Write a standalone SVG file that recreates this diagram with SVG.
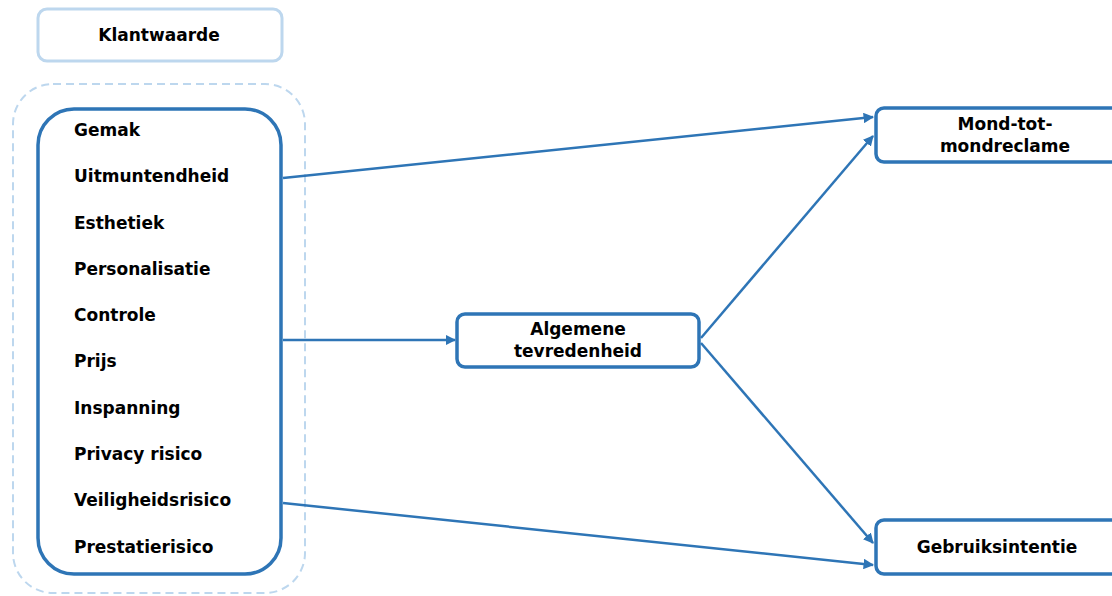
<svg xmlns="http://www.w3.org/2000/svg" width="1112" height="596" viewBox="0 0 1112 596">
<defs>
<style>
.t{font-family:"DejaVu Sans","Liberation Sans",sans-serif;font-weight:bold;font-size:17px;fill:#000}
.c{text-anchor:middle}
.box{fill:#fff;stroke:#2E75B6;stroke-width:3.5}
.edge{fill:none;stroke:#2E75B6;stroke-width:2.5}
</style>
<marker id="ah" viewBox="0 0 10 10" refX="9" refY="5" markerWidth="4.2" markerHeight="4.2" orient="auto" markerUnits="strokeWidth">
<path d="M0,0 L10,5 L0,10 Z" fill="#2E75B6"/>
</marker>
</defs>
<rect width="1112" height="596" fill="#fff"/>
<g id="klantwaarde">
<rect x="38" y="9" width="244" height="52" rx="9" fill="#fff" stroke="#BDD7EE" stroke-width="3"/>
<text class="t c" x="159" y="41">Klantwaarde</text>
</g>
<g id="groep">
<rect x="13" y="84" width="292" height="509" rx="40" fill="none" stroke="#BDD7EE" stroke-width="2" stroke-dasharray="8,5"/>
</g>
<g id="factoren">
<rect class="box" x="38" y="109" width="243" height="465" rx="36"/>
<text class="t" x="74" y="136">Gemak</text>
<text class="t" x="74" y="182">Uitmuntendheid</text>
<text class="t" x="74" y="229">Esthetiek</text>
<text class="t" x="74" y="275">Personalisatie</text>
<text class="t" x="74" y="321">Controle</text>
<text class="t" x="74" y="367">Prijs</text>
<text class="t" x="74" y="414">Inspanning</text>
<text class="t" x="74" y="460">Privacy risico</text>
<text class="t" x="74" y="506">Veiligheidsrisico</text>
<text class="t" x="74" y="553">Prestatierisico</text>
</g>
<g id="algemene">
<rect class="box" x="457" y="314" width="242" height="53" rx="8"/>
<text class="t c" x="578" y="335">Algemene</text>
<text class="t c" x="578" y="357">tevredenheid</text>
</g>
<g id="mond">
<rect class="box" x="876" y="108" width="260" height="54" rx="8"/>
<text class="t c" x="1005" y="130">Mond-tot-</text>
<text class="t c" x="1005" y="152">mondreclame</text>
</g>
<g id="gebruik">
<rect class="box" x="876" y="520" width="260" height="54" rx="8"/>
<text class="t c" x="997" y="553">Gebruiksintentie</text>
</g>
<g id="connectors">
<line class="edge" x1="283" y1="178" x2="873" y2="117" marker-end="url(#ah)"/>
<line class="edge" x1="283" y1="340" x2="455" y2="340" marker-end="url(#ah)"/>
<line class="edge" x1="701" y1="338" x2="873" y2="136" marker-end="url(#ah)"/>
<line class="edge" x1="701" y1="343" x2="873" y2="543" marker-end="url(#ah)"/>
<line class="edge" x1="283" y1="503" x2="873" y2="565" marker-end="url(#ah)"/>
</g>
</svg>
